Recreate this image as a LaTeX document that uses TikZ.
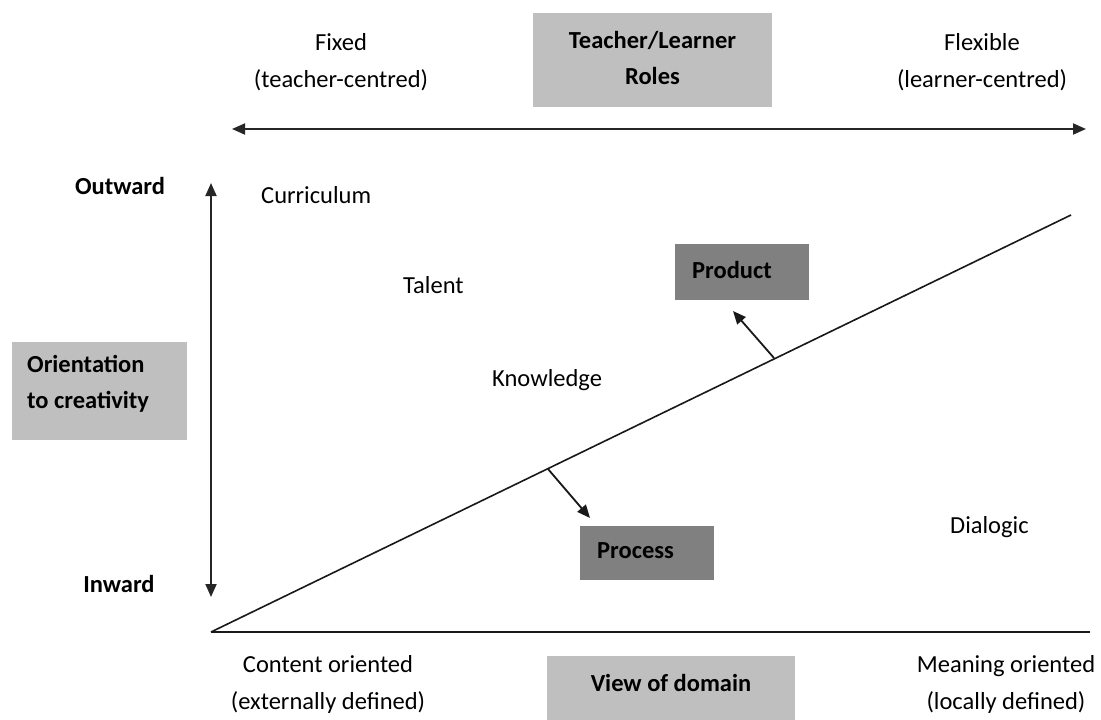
\documentclass[tikz,border=0pt]{standalone}
\usepackage{fontspec}
\setmainfont{Carlito}
\usetikzlibrary{arrows.meta}
\begin{document}
\begin{tikzpicture}[x=1pt,y=-1pt,
  txt/.style={font=\fontsize{24.5}{37}\selectfont, align=center, inner sep=0pt},
  btxt/.style={font=\fontsize{24.5}{36}\selectfont\bfseries, align=center, inner sep=0pt},
  lightbox/.style={fill=black!25, draw=none, inner sep=0pt},
  darkbox/.style={fill=black!50, draw=none, inner sep=0pt},
  axis/.style={line width=1.8pt, black!85, {Triangle[length=13pt,width=11pt]}-{Triangle[length=13pt,width=11pt]}},
  ptr/.style={line width=1.8pt, black!90, -{Triangle[length=13pt,width=11pt]}},
  base/.style={line width=1.6pt, black!90}
]
\useasboundingbox (0,0) rectangle (1101,720);
\fill[white] (0,0) rectangle (1101,720);

% boxes
\fill[lightbox] (533,13) rectangle (772,107);
\node[btxt] (roles) at (652.5,58) {Teacher/Learner\\Roles};
\fill[lightbox] (12,342) rectangle (187,440);
\node[btxt, align=left, anchor=west] (orient) at (27,384) {Orientation\\to creativity};
\fill[lightbox] (547,656) rectangle (795,720);
\node[btxt] (domain) at (671,683) {View of domain};
\fill[darkbox] (675,244) rectangle (809,300);
\node[btxt, anchor=west] (product) at (692,270) {Product};
\fill[darkbox] (580,526) rectangle (714,580);
\node[btxt, anchor=west] (process) at (597,551) {Process};

% labels
\node[txt] (fixed) at (341,62) {Fixed\\(teacher-centred)};
\node[txt] (flex) at (982,62) {Flexible\\(learner-centred)};
\node[btxt] (out) at (120,186) {Outward};
\node[btxt] (in) at (119,584) {Inward};
\node[txt, anchor=west] (curr) at (261,195) {Curriculum};
\node[txt, anchor=west] (talent) at (403,285) {Talent};
\node[txt, anchor=west] (know) at (492,380) {Knowledge};
\node[txt, anchor=west] (dial) at (950,527) {Dialogic};
\node[txt] (content) at (328,684) {Content oriented\\(externally defined)};
\node[txt] (meaning) at (1006,684) {Meaning oriented\\(locally defined)};

% axes
\coordinate (hl) at (232,129);
\coordinate (hr) at (1086,129);
\draw[axis] (hl) -- (hr);
\coordinate (vt) at (211,183);
\coordinate (vb) at (211,597);
\draw[axis] (vt) -- (vb);

\coordinate (o) at (211,632);
\coordinate (de) at (1071,215);
\coordinate (be) at (1090,632);
\draw[base] (o) -- (de);
\draw[base] (o) -- (be);

% pointers
\coordinate (p1) at (774,358);
\coordinate (p1e) at (733,311);
\draw[ptr] (p1) -- (p1e);
\coordinate (p2) at (548,469);
\coordinate (p2e) at (590,518);
\draw[ptr] (p2) -- (p2e);
\end{tikzpicture}
\end{document}
